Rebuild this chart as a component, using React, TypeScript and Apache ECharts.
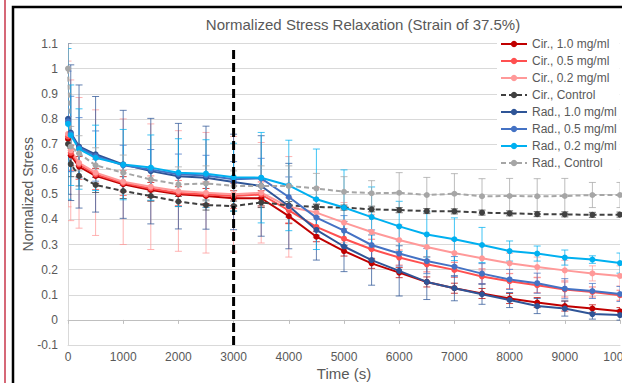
import { useEffect, useRef } from "react";
import * as echarts from "echarts";

const titleText = "Normalized Stress Relaxation (Strain of 37.5%)";
const xName = "Time (s)";
const yName = "Normalized Stress";

const times = [0, 50, 200, 500, 1000, 1500, 2000, 2500, 3000, 3500, 4000, 4500, 5000, 5500, 6000, 6500, 7000, 7500, 8000, 8500, 9000, 9500, 10000];

const seriesNames = [
  "Cir., 1.0 mg/ml",
  "Cir., 0.5 mg/ml",
  "Cir., 0.2 mg/ml",
  "Cir., Control",
  "Rad., 1.0 mg/ml",
  "Rad., 0.5 mg/ml",
  "Rad., 0.2 mg/ml",
  "Rad., Control",
];

const cir10 = [0.72, 0.655, 0.61, 0.573, 0.54, 0.517, 0.5, 0.493, 0.484, 0.484, 0.413, 0.331, 0.274, 0.225, 0.188, 0.151, 0.126, 0.105, 0.085, 0.069, 0.055, 0.045, 0.034];
const cir05 = [0.73, 0.665, 0.619, 0.579, 0.545, 0.523, 0.505, 0.499, 0.493, 0.499, 0.436, 0.37, 0.323, 0.281, 0.248, 0.221, 0.199, 0.173, 0.154, 0.138, 0.121, 0.111, 0.098];
const cir02 = [0.74, 0.675, 0.625, 0.586, 0.55, 0.53, 0.513, 0.506, 0.5, 0.506, 0.45, 0.427, 0.387, 0.35, 0.318, 0.29, 0.266, 0.245, 0.225, 0.21, 0.197, 0.185, 0.175];
const cirCtrl = [0.7, 0.62, 0.573, 0.537, 0.513, 0.493, 0.471, 0.457, 0.453, 0.467, 0.456, 0.449, 0.447, 0.44, 0.437, 0.433, 0.432, 0.427, 0.424, 0.421, 0.42, 0.418, 0.419];
const rad10 = [0.8, 0.745, 0.69, 0.659, 0.619, 0.592, 0.572, 0.566, 0.549, 0.533, 0.453, 0.358, 0.292, 0.238, 0.195, 0.151, 0.126, 0.102, 0.079, 0.055, 0.045, 0.023, 0.019];
const rad05 = [0.79, 0.74, 0.685, 0.652, 0.615, 0.598, 0.58, 0.575, 0.56, 0.563, 0.489, 0.407, 0.355, 0.298, 0.264, 0.234, 0.212, 0.184, 0.161, 0.146, 0.124, 0.115, 0.103];
const rad02 = [0.78, 0.735, 0.68, 0.645, 0.618, 0.606, 0.586, 0.582, 0.568, 0.566, 0.535, 0.48, 0.447, 0.409, 0.372, 0.34, 0.321, 0.298, 0.274, 0.264, 0.248, 0.24, 0.226];
const radCtrl = [1.0, 0.69, 0.663, 0.615, 0.586, 0.559, 0.539, 0.543, 0.533, 0.533, 0.533, 0.523, 0.51, 0.504, 0.506, 0.497, 0.502, 0.492, 0.493, 0.492, 0.493, 0.497, 0.497];

const errCir10 = [0.05, 0.04, 0.04, 0.03, 0.03, 0.03, 0.03, 0.03, 0.03, 0.03, 0.03, 0.02, 0.02, 0.02, 0.02, 0.02, 0.02, 0.02, 0.02, 0.02, 0.02, 0.015, 0.015];
const errCir05 = [0.08, 0.07, 0.06, 0.06, 0.05, 0.05, 0.05, 0.05, 0.05, 0.05, 0.05, 0.04, 0.04, 0.04, 0.03, 0.03, 0.03, 0.03, 0.03, 0.03, 0.03, 0.02, 0.02];
const errCir02 = [0.29, 0.28, 0.26, 0.25, 0.25, 0.25, 0.24, 0.24, 0.23, 0.2, 0.2, 0.1, 0.08, 0.07, 0.06, 0.05, 0.05, 0.05, 0.04, 0.04, 0.04, 0.03, 0.04];
const errCirCtrl = [0.06, 0.05, 0.04, 0.03, 0.03, 0.02, 0.02, 0.02, 0.02, 0.02, 0.015, 0.01, 0.01, 0.01, 0.01, 0.01, 0.01, 0.01, 0.01, 0.01, 0.01, 0.01, 0.01];
const errRad10 = [0.3, 0.27, 0.245, 0.23, 0.215, 0.21, 0.21, 0.205, 0.19, 0.2, 0.17, 0.12, 0.1, 0.1, 0.1, 0.07, 0.05, 0.04, 0.03, 0.03, 0.03, 0.02, 0.02];
const errRad05 = [0.2, 0.15, 0.12, 0.1, 0.08, 0.08, 0.08, 0.08, 0.07, 0.08, 0.08, 0.07, 0.06, 0.06, 0.05, 0.05, 0.04, 0.04, 0.04, 0.04, 0.04, 0.03, 0.03];
const errRad02 = [0.3, 0.2, 0.16, 0.13, 0.14, 0.13, 0.135, 0.135, 0.135, 0.18, 0.18, 0.2, 0.15, 0.12, 0.1, 0.09, 0.085, 0.07, 0.04, 0.03, 0.03, 0.015, 0.04];
const errRadCtrl = [0.1, 0.08, 0.07, 0.07, 0.07, 0.05, 0.07, 0.07, 0.06, 0.08, 0.08, 0.06, 0.06, 0.05, 0.08, 0.07, 0.08, 0.07, 0.07, 0.07, 0.07, 0.05, 0.05];

const stepTime = 3000;
const stepLineRange = [-0.1, 1.08];

const seriesValues = [cir10, cir05, cir02, cirCtrl, rad10, rad05, rad02, radCtrl];
const seriesErrors = [errCir10, errCir05, errCir02, errCirCtrl, errRad10, errRad05, errRad02, errRadCtrl];
const seriesColors = ["#C00000", "#FF5050", "#FF9999", "#404040", "#2F5597", "#4472C4", "#00B0F0", "#A6A6A6"];
const seriesDashed = [false, false, false, true, false, false, false, true];

const FONT = "'Liberation Sans', Arial, sans-serif";

export default function App() {
  const ref = useRef<HTMLDivElement>(null);
  useEffect(() => {
    const chart = echarts.init(ref.current!, null, { renderer: "svg" });

    const lineSeries: any[] = seriesNames.map((name, i) => ({
      name,
      type: "line",
      xAxisIndex: 0,
      yAxisIndex: 0,
      data: times.map((t, j) => [t, seriesValues[i][j]]),
      symbol: "circle",
      symbolSize: 6,
      showSymbol: true,
      color: seriesColors[i],
      itemStyle: { color: seriesColors[i] },
      lineStyle: { color: seriesColors[i], width: 2, type: seriesDashed[i] ? [5, 3] : "solid" },
      z: 3,
      clip: true,
    }));

    const errSeries: any[] = seriesNames.map((name, i) => ({
      name: "err-" + name,
      type: "custom",
      xAxisIndex: 0,
      yAxisIndex: 0,
      clip: true,
      z: 2,
      silent: true,
      encode: { x: 0, y: 1 },
      data: times.map((t, j) => [t, seriesValues[i][j], seriesErrors[i][j]]),
      renderItem: (params: any, api: any) => {
        const x = api.value(0);
        const y = api.value(1);
        const e = api.value(2);
        const top = api.coord([x, y + e]);
        const bot = api.coord([x, y - e]);
        const hw = 3.5;
        const st = { stroke: seriesColors[i], lineWidth: 1, opacity: 0.75 };
        return {
          type: "group",
          children: [
            { type: "line", shape: { x1: top[0], y1: top[1], x2: bot[0], y2: bot[1] }, style: st },
            { type: "line", shape: { x1: top[0] - hw, y1: top[1], x2: top[0] + hw, y2: top[1] }, style: st },
            { type: "line", shape: { x1: bot[0] - hw, y1: bot[1], x2: bot[0] + hw, y2: bot[1] }, style: st },
          ],
        };
      },
    }));

    const stepSeries = {
      name: "step",
      type: "line",
      xAxisIndex: 0,
      yAxisIndex: 0,
      data: stepLineRange.map((v) => [stepTime, v]),
      symbol: "none",
      lineStyle: { color: "#000000", width: 3, type: [9, 4] },
      z: 5,
      silent: true,
    };

    const option: any = {
      animation: false,
      backgroundColor: "#ffffff",
      textStyle: { fontFamily: FONT },
      title: {
        text: titleText,
        left: 358,
        textAlign: "center",
        top: 12,
        textStyle: { fontSize: 15, fontWeight: "normal", color: "#595959", fontFamily: FONT },
      },
      legend: {
        data: seriesNames,
        orient: "vertical",
        left: 497,
        top: 36,
        itemWidth: 26,
        itemHeight: 8,
        itemGap: 3,
        padding: [1, 3],
        backgroundColor: "#ffffff",
        textStyle: { fontSize: 12, color: "#595959", fontFamily: FONT, lineHeight: 14 },
      },
      grid: { left: 68, right: 2, top: 43.5, bottom: 38, containLabel: false, outerBoundsMode: "none" },
      xAxis: [
        {
          type: "value",
          min: 0,
          max: 10000,
          interval: 1000,
          name: xName,
          nameLocation: "middle",
          nameGap: 21,
          nameMoveOverlap: false,
          nameTextStyle: { fontSize: 15, color: "#595959", fontFamily: FONT },
          axisLine: { show: true, onZero: false, lineStyle: { color: "#D9D9D9" } },
          axisTick: { show: false },
          axisLabel: {
            fontSize: 12,
            color: "#595959",
            margin: 6,
            fontFamily: FONT,
            hideOverlap: false,
            showMaxLabel: true,
            formatter: (v: number) => String(v),
          },
          splitLine: { show: false },
        },
        {
          type: "value",
          min: 0,
          max: 10000,
          interval: 1000,
          position: "bottom",
          axisLine: { show: true, onZero: true, lineStyle: { color: "#BFBFBF" } },
          axisTick: { show: true, length: 4, lineStyle: { color: "#BFBFBF" } },
          axisLabel: { show: false },
          splitLine: { show: false },
        },
      ],
      yAxis: {
        type: "value",
        min: -0.1,
        max: 1.1,
        interval: 0.1,
        name: yName,
        nameLocation: "middle",
        nameGap: 33,
        nameMoveOverlap: false,
        nameTextStyle: { fontSize: 14, color: "#595959", fontFamily: FONT },
        axisLine: { show: true, lineStyle: { color: "#D9D9D9" } },
        axisTick: { show: false },
        axisLabel: {
          fontSize: 12,
          color: "#595959",
          margin: 10,
          fontFamily: FONT,
          formatter: (v: number) => String(parseFloat(v.toFixed(1))),
        },
        splitLine: { show: true, lineStyle: { color: "#D9D9D9", width: 1 } },
      },
      graphic: [
        {
          type: "rect",
          shape: { x: 13, y: 7, width: 700, height: 500 },
          style: { fill: "none", stroke: "#000000", lineWidth: 2.5 },
          z: 100,
          silent: true,
        },
        {
          type: "line",
          shape: { x1: 5, y1: 0, x2: 5, y2: 383 },
          style: { stroke: "#C8364A", lineWidth: 1.5 },
          z: 100,
          silent: true,
        },
      ],
      series: [...errSeries, ...lineSeries, stepSeries],
    };

    chart.setOption(option);
    return () => chart.dispose();
  }, []);

  return (
    <div style={{ position: "absolute", left: 0, top: 0, width: 622, height: 383, overflow: "hidden", background: "#fff" }}>
      <div ref={ref} style={{ width: 622, height: 383 }} />
    </div>
  );
}
